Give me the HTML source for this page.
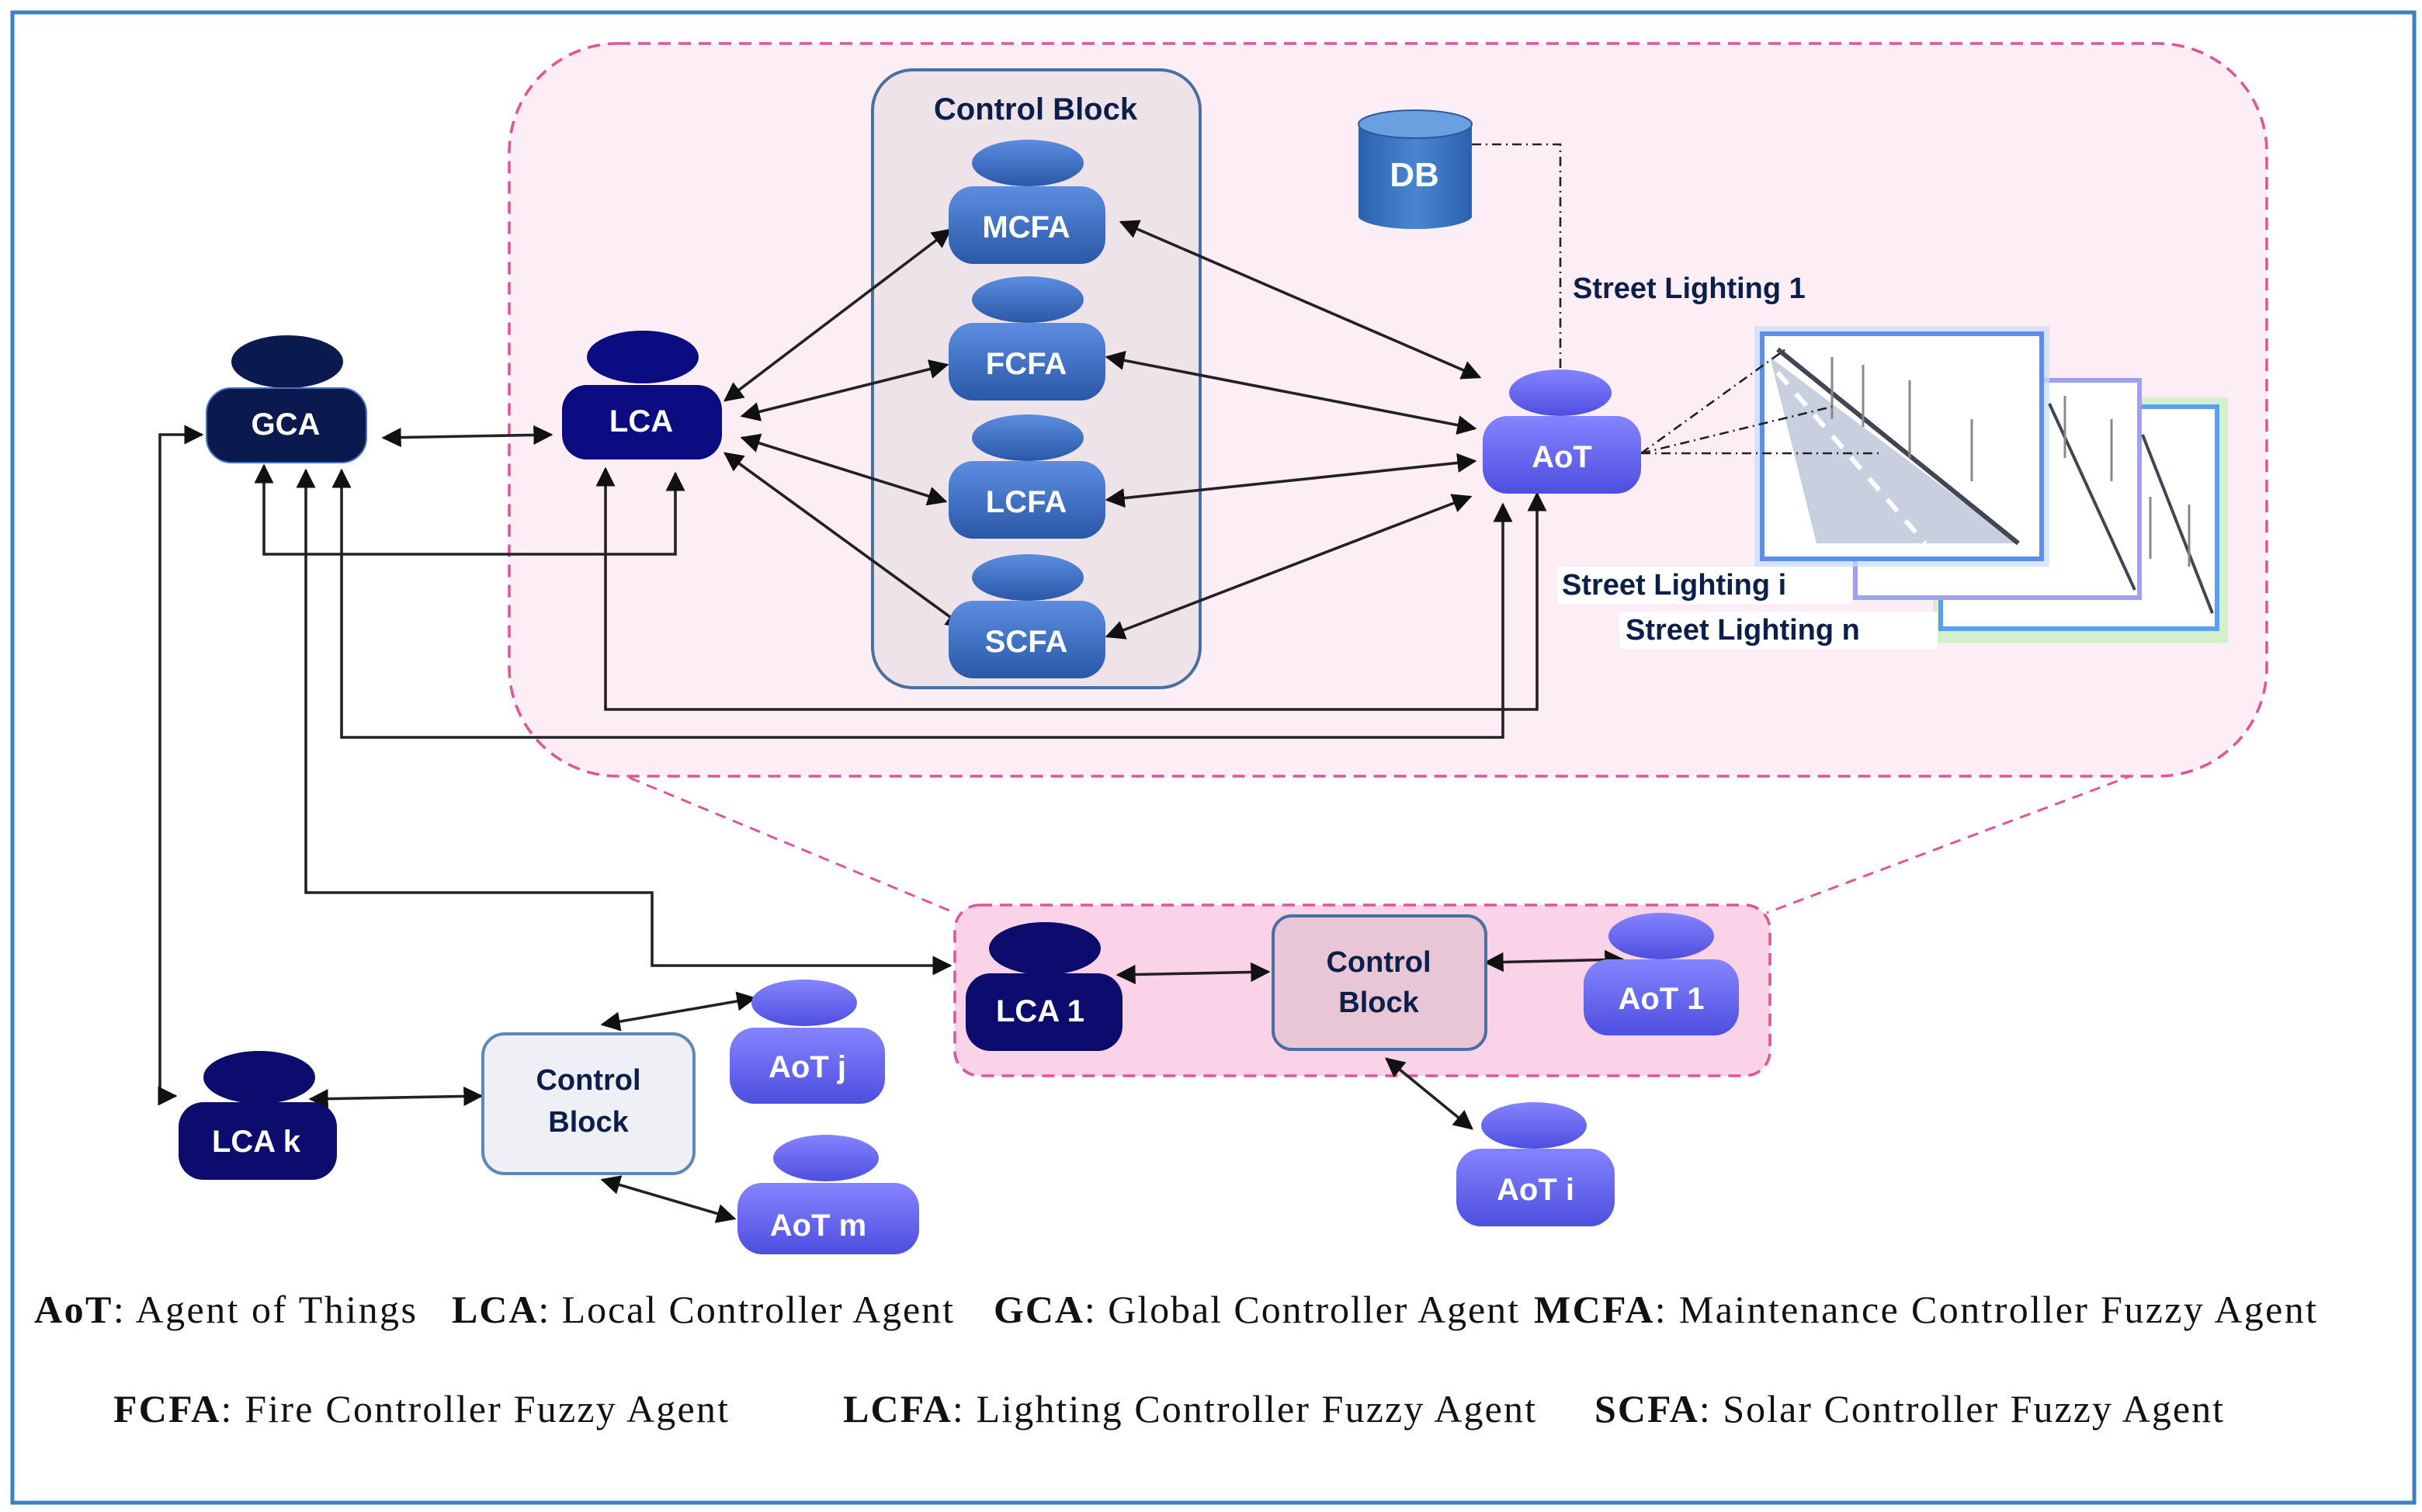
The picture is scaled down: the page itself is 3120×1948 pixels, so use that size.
<!DOCTYPE html>
<html><head><meta charset="utf-8"><style>
html,body{margin:0;padding:0;background:#fff}
svg{display:block}
.t{font-family:"Liberation Sans",sans-serif;font-weight:bold;fill:#fff;font-size:20px;text-anchor:middle}
.d{font-family:"Liberation Sans",sans-serif;font-weight:bold;fill:#0c1f4a;font-size:19px}
.l{font-family:"Liberation Serif",serif;font-size:25px;fill:#111}
.a{stroke:#222;stroke-width:1.8;fill:none;marker-start:url(#m);marker-end:url(#m)}
</style></head><body>
<svg width="3120" height="1948" viewBox="0 0 1560 974" xmlns="http://www.w3.org/2000/svg">
<defs>
<marker id="m" viewBox="0 0 10 10" refX="9" refY="5" markerWidth="7" markerHeight="7" orient="auto-start-reverse"><path d="M0,0 L10,5 L0,10 z" fill="#111"/></marker>
<linearGradient id="gb" x1="0" y1="0" x2="0" y2="1"><stop offset="0" stop-color="#5c8de0"/><stop offset="1" stop-color="#2a58a8"/></linearGradient>
<linearGradient id="gp" x1="0" y1="0" x2="0" y2="1"><stop offset="0" stop-color="#8484ff"/><stop offset="1" stop-color="#4e4ee0"/></linearGradient>
<linearGradient id="gdb" x1="0" y1="0" x2="1" y2="0"><stop offset="0" stop-color="#2a62b0"/><stop offset="0.5" stop-color="#4a86d0"/><stop offset="1" stop-color="#2a62b0"/></linearGradient>
</defs>
<rect x="8" y="8" width="1547" height="960" fill="#fff" stroke="#3d80c4" stroke-width="2.5"/>
<line x1="350" y1="478" x2="615" y2="588" stroke="#e0559a" stroke-width="1.5" stroke-dasharray="7,5"/>
<line x1="1420" y1="482" x2="1138" y2="588" stroke="#e0559a" stroke-width="1.5" stroke-dasharray="7,5"/>
<rect x="328" y="28" width="1132" height="472" rx="70" fill="#fdeef6" stroke="#e0559a" stroke-width="1.8" stroke-dasharray="8,5"/>
<rect x="615" y="583" width="525" height="110" rx="16" fill="#fbd3e8" stroke="#e0559a" stroke-width="1.8" stroke-dasharray="8,5"/>
<rect x="562" y="45" width="211" height="398" rx="26" fill="#efe3ea" stroke="#4a6fa0" stroke-width="2"/>
<text class="d" x="667" y="77" text-anchor="middle" style="font-size:20px">Control  Block</text>
<g>
<rect x="1245" y="256" width="190" height="158" fill="#b8f0b0" opacity="0.6"/>
<rect x="1250" y="262" width="178" height="143" fill="#fff" stroke="#5aa0f0" stroke-width="3"/>
<rect x="1195" y="245" width="183" height="140" fill="#fff" stroke="#a0a0f0" stroke-width="3"/>
<rect x="1130" y="210" width="190" height="155" fill="#c8dcff" opacity="0.7"/>
<rect x="1135" y="215" width="180" height="145" fill="#fff" stroke="#5a8ff0" stroke-width="3"/>
<path d="M1140,230 L1300,350 L1170,350 Z" fill="#c8d0e0"/>
<line x1="1145" y1="225" x2="1300" y2="350" stroke="#445" stroke-width="3"/>
<line x1="1145" y1="240" x2="1240" y2="350" stroke="#fff" stroke-width="3" stroke-dasharray="10,8"/>
<line x1="1320" y1="260" x2="1375" y2="380" stroke="#445" stroke-width="2"/>
<line x1="1380" y1="280" x2="1425" y2="395" stroke="#445" stroke-width="2"/>
<path d="M1180,230 v40 M1200,235 v40 M1230,245 v50 M1270,270 v40" stroke="#888" stroke-width="1.5"/>
<path d="M1330,255 v40 M1360,270 v40 M1385,320 v40 M1410,325 v40" stroke="#888" stroke-width="1.5"/>
</g>
<rect x="1003" y="365" width="190" height="24" fill="#fff"/>
<rect x="1043" y="394" width="205" height="24" fill="#fff"/>
<text class="d" x="1013" y="192">Street Lighting 1</text>
<text class="d" x="1006" y="383">Street Lighting i</text>
<text class="d" x="1047" y="412">Street Lighting n</text>
<path d="M875,80 v60 a37,9 0 0 0 73,0 v-60" fill="url(#gdb)"/>
<ellipse cx="911.5" cy="80" rx="36.5" ry="9" fill="#6aa0e0" stroke="#2a5aa0"/>
<text class="t" x="911" y="120" style="font-size:22px">DB</text>
<path d="M948,93 H1005 V238" stroke="#222" stroke-width="1.3" fill="none" stroke-dasharray="6,3,1,3"/>
<path d="M1057,292 L1150,225 M1057,292 L1180,262 M1057,292 L1212,292" stroke="#222" stroke-width="1.3" fill="none" stroke-dasharray="6,3,1,3"/>
<line class="a" x1="247" y1="282" x2="355" y2="280"/>
<line class="a" x1="467" y1="258" x2="612" y2="148"/>
<line class="a" x1="478" y1="268" x2="610" y2="235"/>
<line class="a" x1="478" y1="282" x2="609" y2="323"/>
<line class="a" x1="467" y1="292" x2="621" y2="404"/>
<line class="a" x1="722" y1="143" x2="953" y2="243"/>
<line class="a" x1="713" y1="230" x2="950" y2="276"/>
<line class="a" x1="713" y1="322" x2="950" y2="297"/>
<line class="a" x1="713" y1="410" x2="947" y2="320"/>
<path class="a" d="M170,300 V357 H435 V305"/>
<path class="a" d="M390,302 V457 H990 V318"/>
<path class="a" d="M220,303 V475 H968 V325"/>
<path d="M197,303 V575 H420 V622 H612" stroke="#222" stroke-width="1.8" fill="none" marker-start="url(#m)" marker-end="url(#m)"/>
<path class="a" d="M130,280 H103 V706 H113"/>
<line class="a" x1="200" y1="708" x2="310" y2="706"/>
<line class="a" x1="388" y1="660" x2="486" y2="643"/>
<line class="a" x1="388" y1="760" x2="473" y2="785"/>
<line class="a" x1="720" y1="628" x2="817" y2="626"/>
<line class="a" x1="957" y1="620" x2="1045" y2="618"/>
<line class="a" x1="893" y1="682" x2="948" y2="727"/>
<rect x="820" y="590" width="137" height="86" rx="12" fill="#e8c6d6" stroke="#4a6fa0" stroke-width="2"/>
<text class="d" x="888" y="626" text-anchor="middle">Control</text>
<text class="d" x="888" y="652" text-anchor="middle">Block</text>
<rect x="311" y="666" width="136" height="90" rx="14" fill="#eef0f5" stroke="#5f86b8" stroke-width="2"/>
<text class="d" x="379" y="702" text-anchor="middle">Control</text>
<text class="d" x="379" y="729" text-anchor="middle">Block</text>
<g>
<ellipse cx="185" cy="233" rx="36" ry="17" fill="#0b1a4e"/><rect x="133" y="250" width="103" height="48" rx="16" fill="#0b1a4e" stroke="#4a70c0"/><text class="t" x="184" y="280">GCA</text>
<ellipse cx="414" cy="230" rx="36" ry="17" fill="#0c0c82"/><rect x="362" y="248" width="103" height="48" rx="16" fill="#0c0c82"/><text class="t" x="413" y="278">LCA</text>
<ellipse cx="662" cy="105" rx="36" ry="15" fill="url(#gb)"/><rect x="611" y="120" width="101" height="50" rx="16" fill="url(#gb)"/><text class="t" x="661" y="153">MCFA</text>
<ellipse cx="662" cy="193" rx="36" ry="15" fill="url(#gb)"/><rect x="611" y="208" width="101" height="50" rx="16" fill="url(#gb)"/><text class="t" x="661" y="241">FCFA</text>
<ellipse cx="662" cy="282" rx="36" ry="15" fill="url(#gb)"/><rect x="611" y="297" width="101" height="50" rx="16" fill="url(#gb)"/><text class="t" x="661" y="330">LCFA</text>
<ellipse cx="662" cy="372" rx="36" ry="15" fill="url(#gb)"/><rect x="611" y="387" width="101" height="50" rx="16" fill="url(#gb)"/><text class="t" x="661" y="420">SCFA</text>
<ellipse cx="1005" cy="253" rx="33" ry="15" fill="url(#gp)"/><rect x="955" y="268" width="102" height="50" rx="16" fill="url(#gp)"/><text class="t" x="1006" y="301">AoT</text>
<ellipse cx="673" cy="611" rx="36" ry="17" fill="#0c0c6e"/><rect x="622" y="627" width="101" height="50" rx="16" fill="#0c0c6e"/><text class="t" x="670" y="658">LCA 1</text>
<ellipse cx="1070" cy="603" rx="34" ry="15" fill="url(#gp)"/><rect x="1020" y="618" width="100" height="49" rx="16" fill="url(#gp)"/><text class="t" x="1070" y="650">AoT 1</text>
<ellipse cx="167" cy="694" rx="36" ry="17" fill="#0c0c6e"/><rect x="115" y="710" width="102" height="50" rx="16" fill="#0c0c6e"/><text class="t" x="165" y="742">LCA k</text>
<ellipse cx="518" cy="646" rx="34" ry="15" fill="url(#gp)"/><rect x="470" y="662" width="100" height="49" rx="16" fill="url(#gp)"/><text class="t" x="520" y="694">AoT j</text>
<ellipse cx="532" cy="746" rx="34" ry="15" fill="url(#gp)"/><rect x="475" y="762" width="117" height="46" rx="16" fill="url(#gp)"/><text class="t" x="527" y="796">AoT m</text>
<ellipse cx="988" cy="725" rx="34" ry="15" fill="url(#gp)"/><rect x="938" y="740" width="102" height="50" rx="16" fill="url(#gp)"/><text class="t" x="989" y="773">AoT i</text>
</g>
<text class="l" x="22" y="852" textLength="246" lengthAdjust="spacing"><tspan font-weight="bold">AoT</tspan>: Agent of Things</text>
<text class="l" x="291" y="852" textLength="323" lengthAdjust="spacing"><tspan font-weight="bold">LCA</tspan>: Local Controller Agent</text>
<text class="l" x="640" y="852" textLength="338" lengthAdjust="spacing"><tspan font-weight="bold">GCA</tspan>: Global Controller Agent</text>
<text class="l" x="988" y="852" textLength="504" lengthAdjust="spacing"><tspan font-weight="bold">MCFA</tspan>: Maintenance Controller Fuzzy Agent</text>
<text class="l" x="73" y="916" textLength="396" lengthAdjust="spacing"><tspan font-weight="bold">FCFA</tspan>: Fire Controller Fuzzy Agent</text>
<text class="l" x="543" y="916" textLength="446" lengthAdjust="spacing"><tspan font-weight="bold">LCFA</tspan>: Lighting  Controller Fuzzy Agent</text>
<text class="l" x="1027" y="916" textLength="405" lengthAdjust="spacing"><tspan font-weight="bold">SCFA</tspan>: Solar Controller Fuzzy Agent</text>
</svg>
</body></html>
